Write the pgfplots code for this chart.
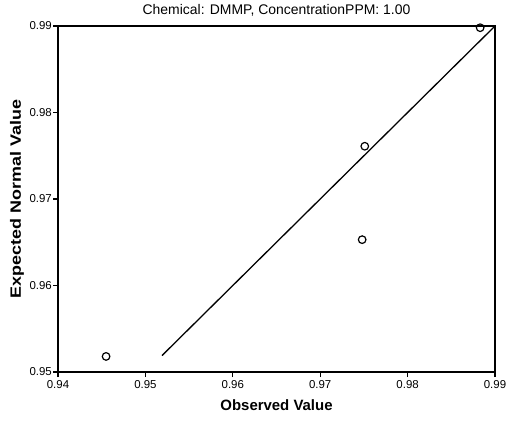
\documentclass[border=0pt]{standalone}
\usepackage{pgfplots}
\pgfplotsset{compat=1.18}
\usepackage{graphicx}
\usepackage{fontspec}
\setmainfont{Liberation Sans}
\begin{document}
\begin{tikzpicture}[x=1bp,y=1bp]
\path[use as bounding box] (-58,-48) rectangle (448,372);
\begin{axis}[
  at={(0,0)}, anchor=south west,
  scale only axis, width=437bp, height=346bp,
  xmin=0.94, xmax=0.99, ymin=0.95, ymax=0.99,
  xtick={0.94,0.95,...,0.99}, ytick={0.95,0.96,...,0.99},
  tick align=outside, xtick pos=bottom, ytick pos=left,
  major tick length=5bp,
  tick style={black, line width=1.2pt},
  axis line style={line width=1.2pt},
  /pgf/number format/assume math mode=true,
  /pgf/number format/fixed, /pgf/number format/fixed zerofill,
  /pgf/number format/precision=2,
  tick label style={font=\fontsize{11.5}{12}\selectfont},
  xticklabel style={inner sep=1bp, yshift=-2.5bp},
  yticklabel style={inner sep=1bp},
  xlabel={\textbf{Observed Value}},
  ylabel={\scalebox{1.2}[1]{\textbf{Expected Normal Value}}},
  label style={font=\fontsize{15}{16}\selectfont},
  xlabel style={at={(axis description cs:0.5,0)}, anchor=center, yshift=-33bp},
  ylabel style={at={(axis description cs:0,0.5)}, anchor=center, yshift=41bp},
  title={Chemical: DMMP, ConcentrationPPM: 1.00},
  title style={font=\fontsize{14}{15}\selectfont, at={(axis description cs:0.5,1)}, anchor=center, yshift=10bp},
]
\addplot[black, line width=1.3pt] coordinates {(0.9519,0.9519) (0.99,0.99)};
\addplot[only marks, mark=o, mark size=3.8bp, mark options={line width=1.2pt, black}] coordinates {
(0.9455,0.9518) (0.9748,0.9653) (0.9751,0.9761) (0.9883,0.9898)};
\end{axis}
\end{tikzpicture}
\end{document}
